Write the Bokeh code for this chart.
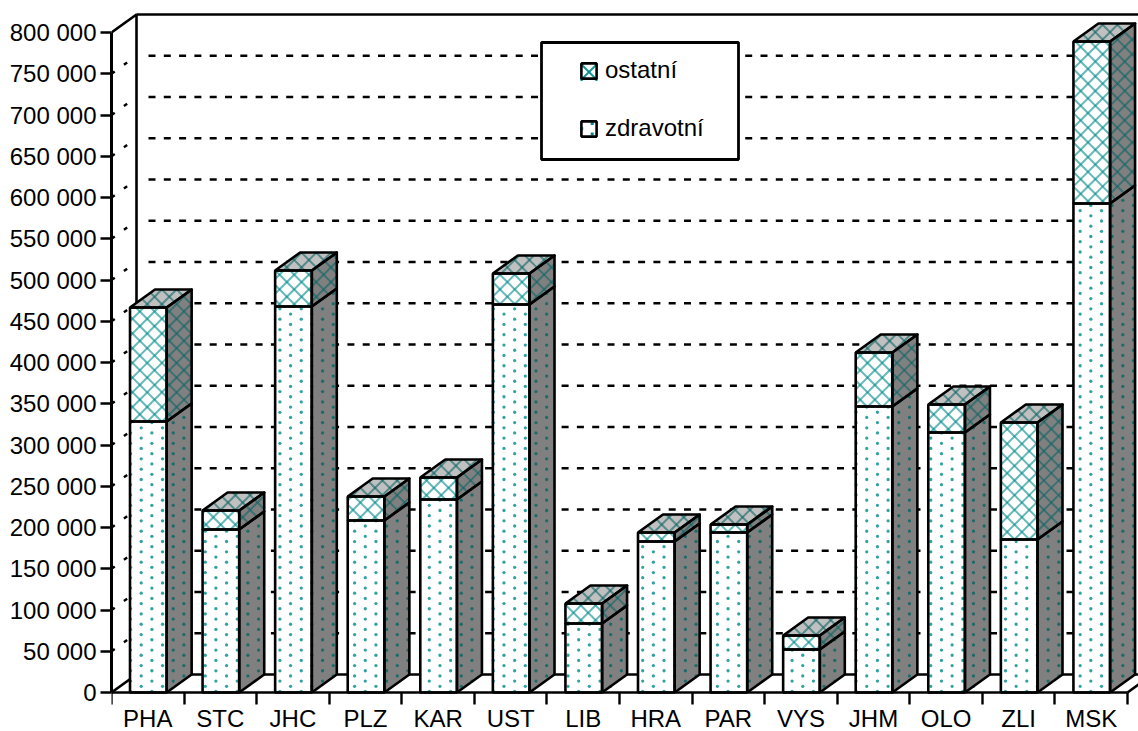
from bokeh.plotting import figure
from bokeh.core.properties import value
from bokeh.models import Range1d, FixedTicker, Legend, LegendItem
from bokeh.embed import file_html
from bokeh.resources import INLINE

categories = ["PHA", "STC", "JHC", "PLZ", "KAR", "UST", "LIB", "HRA", "PAR", "VYS", "JHM", "OLO", "ZLI", "MSK"]
zdravotni = [328500, 197600, 467900, 208500, 233900, 470300, 83600, 183000, 193900, 52100, 346700, 315200, 185500, 592700]
ostatni = [138200, 23000, 43600, 29100, 26700, 37600, 24200, 10900, 9700, 17000, 65500, 33900, 141800, 196400]
y_ticks = list(range(0, 800001, 50000))
y_labels = ["0"] + [f"{v // 1000} 000" for v in y_ticks[1:]]

FONT = "Liberation Sans"
FS = "24px"
TEAL = "#008b8b"
DARK_TEAL = "#0f6565"
W, H = 1138, 731
AX_L, AX_B = 111, 692      # canvas position of the data origin
PX_X = 72.571              # pixels per category
PX_Y = 660 / 800000        # pixels per value
DX = 25 / PX_X
DY = 18 / PX_Y
BAR_L, BAR_W = 0.255, 0.505
LW = 2.6

def dx_of(px):
    return (px - AX_L) / PX_X

def dy_of(py):
    return (AX_B - py) / PX_Y

def px_of(pt):
    return AX_L + pt[0] * PX_X, AX_B - pt[1] * PX_Y

p = figure(width=W, height=H, output_backend="svg", toolbar_location=None,
           x_range=Range1d(dx_of(AX_L), dx_of(W)), y_range=Range1d(dy_of(H), dy_of(0)),
           min_border_left=AX_L, min_border_right=0, min_border_top=0, min_border_bottom=0,
           background_fill_color="white", border_fill_color="white", outline_line_color=None)
p.grid.visible = False
xmax = p.x_range.end

# axes
ya = p.yaxis[0]
ya.ticker = FixedTicker(ticks=y_ticks)
ya.major_label_overrides = dict(zip(y_ticks, y_labels))
ya.bounds = (0, 800000)
ya.major_tick_out = 11
ya.major_tick_in = 0
ya.major_tick_line_width = 2.4
ya.axis_line_width = 3
ya.major_label_standoff = 4
ya.major_label_text_font = FONT
ya.major_label_text_font_size = FS
ya.major_label_text_color = "black"

n = len(categories)
centers = [i + 0.5 for i in range(n)]
xa = p.xaxis[0]
xa.fixed_location = 0
xa.ticker = FixedTicker(ticks=centers, minor_ticks=list(range(n + 1)))
xa.major_label_overrides = dict(zip(centers, categories))
xa.bounds = (0, n)
xa.major_tick_line_color = None
xa.major_tick_out = 0
xa.major_tick_in = 0
xa.minor_tick_out = 12
xa.minor_tick_in = 0
xa.minor_tick_line_width = 2.4
xa.axis_line_width = 2.6
xa.major_label_standoff = 0
xa.major_label_text_font = FONT
xa.major_label_text_font_size = FS
xa.major_label_text_color = "black"

# walls
grid_vals = y_ticks[1:-1]
p.multi_line([[0, DX] for _ in grid_vals], [[v, v + DY] for v in grid_vals],
             line_color="black", line_width=2.4, line_dash=value([4, 11.3]))
p.multi_line([[dx_of(148), xmax + 1] for _ in grid_vals], [[v + DY, v + DY] for v in grid_vals],
             line_color="black", line_width=2.6, line_dash=value([7, 8.3]))
top = 800000 + DY
p.line([0, DX, DX], [800000, top, DY], line_color="black", line_width=LW)
p.line([DX, xmax + 1], [top, top], line_color="black", line_width=LW)
p.line([0, DX, xmax + 1], [0, DY, DY], line_color="black", line_width=LW)
p.line([n, n + DX], [0, DY], line_color="black", line_width=LW)

# bars: faces derived from the values
totals = [a + b for a, b in zip(zdravotni, ostatni)]
lefts = [i + BAR_L for i in range(n)]
rights = [l + BAR_W for l in lefts]
mids = [l + BAR_W / 2 for l in lefts]

def rect(l, r, b, t):
    return [(l, b), (r, b), (r, t), (l, t)]

def side(r, b, t):
    return [(r, b), (r + DX, b + DY), (r + DX, t + DY), (r, t)]

def lid(l, r, t):
    return [(l, t), (r, t), (r + DX, t + DY), (l + DX, t + DY)]

front_z = [rect(l, r, 0, z) for l, r, z in zip(lefts, rights, zdravotni)]
front_o = [rect(l, r, z, t) for l, r, z, t in zip(lefts, rights, zdravotni, totals)]
side_z = [side(r, 0, z) for r, z in zip(rights, zdravotni)]
side_o = [side(r, z, t) for r, z, t in zip(rights, zdravotni, totals)]
lids = [lid(l, r, t) for l, r, t in zip(lefts, rights, totals)]

def xs_of(polys):
    return [[q[0] for q in poly] for poly in polys]

def ys_of(polys):
    return [[q[1] for q in poly] for poly in polys]

def patches(polys, color):
    p.patches(xs_of(polys), ys_of(polys), fill_color=color, line_color=None)

patches(side_z + side_o, "#808080")
patches(lids, "#c0c0c0")
patches(front_z + front_o, "white")

# pattern fills (Excel-like pixel patterns), computed on the canvas lattice
def inside(pxpoly, x, y):
    sign = 0
    for (x0, y0), (x1, y1) in zip(pxpoly, pxpoly[1:] + pxpoly[:1]):
        c = (x1 - x0) * (y - y0) - (y1 - y0) * (x - x0)
        if c != 0:
            s = 1 if c > 0 else -1
            if sign and s != sign:
                return False
            sign = s
    return True

def dot_marks(polys, ox=140.7, oy=561.7, cx=10.67, cy=5.17):
    out_x, out_y = [], []
    for poly in polys:
        pxpoly = [px_of(q) for q in poly]
        x0, x1 = min(q[0] for q in pxpoly), max(q[0] for q in pxpoly)
        y0, y1 = min(q[1] for q in pxpoly), max(q[1] for q in pxpoly)
        k = int((x0 - ox) // cx)
        while ox + k * cx <= x1:
            m = int((y0 - oy) // cy)
            while oy + m * cy <= y1:
                x, y = ox + k * cx, oy + m * cy
                if (k + m) % 2 == 0 and inside(pxpoly, x, y):
                    out_x.append(dx_of(x))
                    out_y.append(dy_of(y))
                m += 1
            k += 1
    return out_x, out_y

def clip(pxpoly, a, b):
    """Cut the line through a and b with a convex polygon."""
    t0, t1 = -1e9, 1e9
    cx = sum(q[0] for q in pxpoly) / len(pxpoly)
    cy = sum(q[1] for q in pxpoly) / len(pxpoly)
    ux, uy = b[0] - a[0], b[1] - a[1]
    for (x0, y0), (x1, y1) in zip(pxpoly, pxpoly[1:] + pxpoly[:1]):
        nx, ny = y0 - y1, x1 - x0
        if nx * (cx - x0) + ny * (cy - y0) < 0:
            nx, ny = -nx, -ny
        den = nx * ux + ny * uy
        num = nx * (a[0] - x0) + ny * (a[1] - y0)
        if den == 0:
            if num < 0:
                return None
        elif den > 0:
            t0 = max(t0, -num / den)
        else:
            t1 = min(t1, -num / den)
    if t0 >= t1:
        return None
    return (a[0] + t0 * ux, a[1] + t0 * uy), (a[0] + t1 * ux, a[1] + t1 * uy)

def cross_marks(polys, crossing=(146.7, 318.3), period=14.7):
    out_x, out_y = [], []
    a0 = crossing[0] + crossing[1]
    b0 = crossing[0] - crossing[1]
    for poly in polys:
        pxpoly = [px_of(q) for q in poly]
        sums = [q[0] + q[1] for q in pxpoly]
        difs = [q[0] - q[1] for q in pxpoly]
        k = int((min(sums) - a0) // period)
        while a0 + k * period <= max(sums):
            c = a0 + k * period
            seg = clip(pxpoly, (c, 0), (0, c))
            if seg:
                out_x.append([dx_of(seg[0][0]), dx_of(seg[1][0])])
                out_y.append([dy_of(seg[0][1]), dy_of(seg[1][1])])
            k += 1
        k = int((min(difs) - b0) // period)
        while b0 + k * period <= max(difs):
            c = b0 + k * period
            seg = clip(pxpoly, (c, 0), (c + 1000, 1000))
            if seg:
                out_x.append([dx_of(seg[0][0]), dx_of(seg[1][0])])
                out_y.append([dy_of(seg[0][1]), dy_of(seg[1][1])])
            k += 1
    return out_x, out_y

mx, my = dot_marks(front_z)
p.scatter(mx, my, marker="circle", size=3.3, fill_color=TEAL, fill_alpha=0.8, line_color=None)
mx, my = dot_marks(side_z)
p.scatter(mx, my, marker="circle", size=3.3, fill_color=DARK_TEAL, fill_alpha=0.85, line_color=None)
mx, my = cross_marks(front_o)
p.multi_line(mx, my, line_color=TEAL, line_alpha=0.6, line_width=2)
mx, my = cross_marks(side_o + lids)
p.multi_line(mx, my, line_color=DARK_TEAL, line_alpha=0.6, line_width=2)

# outlines over the patterns
others = side_z + side_o + lids
p.multi_line([xs + xs[:1] for xs in xs_of(others)], [ys + ys[:1] for ys in ys_of(others)],
             line_color="black", line_width=LW, line_join="round")
outline = dict(fill_alpha=0, line_color="black", line_width=LW)
r_z = p.vbar(x=mids, width=BAR_W, bottom=0, top=zdravotni, **outline)
r_o = p.vbar(x=mids, width=BAR_W, bottom=zdravotni, top=totals, **outline)

# legend frame with pattern swatches under the transparent legend glyphs
p.quad(left=[dx_of(541)], right=[dx_of(738)], bottom=[dy_of(159)], top=[dy_of(42)],
       fill_color="white", line_color="black", line_width=2.8)
swatch_o = [rect(dx_of(580), dx_of(597), dy_of(80), dy_of(63))]
swatch_z = [rect(dx_of(580), dx_of(597), dy_of(137), dy_of(120))]
mx, my = cross_marks(swatch_o, crossing=(588.5, 71.5), period=14.7)
p.multi_line(mx, my, line_color=TEAL, line_alpha=0.9, line_width=2)
mx, my = dot_marks(swatch_z, ox=581.2, oy=128.3, cx=10.5, cy=5.3)
p.scatter(mx, my, marker="square", size=3, fill_color=TEAL, line_color=None)

leg = Legend(items=[LegendItem(label="ostatní", renderers=[r_o]), LegendItem(label="zdravotní", renderers=[r_z])],
             location=(468, 589), padding=0, margin=0, spacing=30, glyph_width=19, glyph_height=19,
             label_standoff=7, border_line_color=None, background_fill_alpha=0,
             label_text_font=FONT, label_text_font_size=FS, label_text_color="black", label_height=19)
p.add_layout(leg, "center")

open("out.html", "w").write(file_html(p, INLINE))
